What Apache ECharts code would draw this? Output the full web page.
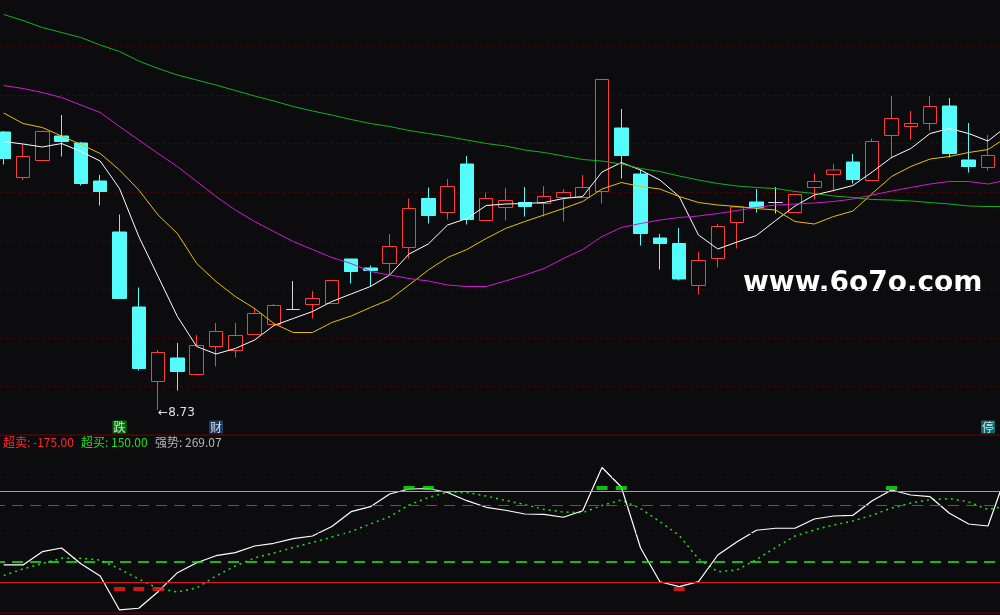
<!DOCTYPE html>
<html>
<head>
<meta charset="utf-8">
<title>K线</title>
<script src="https://cdn.jsdelivr.net/npm/echarts@6/dist/echarts.min.js"></script>
<style>
html, body { margin: 0; padding: 0; background: #0c0c0f; }
#main { width: 1000px; height: 615px; }
</style>
</head>
<body>
<div id="main"></div>
<script>
// 日K数据 (读自截图)
var days = [];
for (var d = 1; d <= 53; d++) { days.push('D' + d); }

var open  = [14.29,13.38,13.72,14.21,14.07,13.31,12.29,10.79,9.30,9.77,9.44,10.00,9.92,10.24,10.44,10.74,10.84,10.86,11.75,11.57,11.66,11.98,12.96,12.68,13.65,12.52,12.78,12.88,12.86,12.98,12.98,13.10,14.37,13.45,12.17,12.06,11.22,11.76,12.48,12.89,12.88,12.68,13.18,13.44,13.69,13.32,14.22,14.40,14.46,14.81,13.73,13.58];
var close = [13.76,13.80,14.30,14.10,13.26,13.10,10.96,9.56,9.88,9.50,10.02,10.30,10.22,10.66,10.82,10.74,10.96,11.32,11.50,11.52,12.00,12.76,12.62,13.20,12.54,12.96,12.92,12.80,13.00,13.08,13.18,15.34,13.82,12.26,12.06,11.35,11.72,12.40,12.79,12.78,12.88,13.04,13.30,13.53,13.34,14.10,14.56,14.46,14.80,13.86,13.60,13.82];
var low   = [13.64,13.33,13.72,13.80,13.22,12.82,10.96,9.52,8.73,9.12,9.42,9.60,9.78,10.24,10.43,10.74,10.56,10.86,11.26,11.20,11.43,11.76,12.46,12.54,12.44,12.52,12.52,12.60,12.60,12.50,12.98,12.86,13.36,12.02,11.54,11.32,11.04,11.58,11.96,12.68,12.66,12.68,12.94,13.10,13.26,13.32,13.76,14.14,14.32,13.78,13.48,13.52];
var high  = [14.31,14.04,14.32,14.63,14.09,13.43,12.64,11.18,9.93,10.07,10.23,10.47,10.47,10.78,10.85,11.31,11.11,11.32,11.75,11.62,12.25,12.96,13.18,13.35,13.81,13.08,13.17,13.19,13.21,13.15,13.43,15.34,14.75,13.53,12.25,12.37,11.89,12.45,12.79,13.15,13.19,13.04,13.46,13.65,13.85,14.16,15.01,14.71,15.01,14.97,14.47,14.23];

var ma5  = [14.10,14.05,13.99,14.06,13.90,13.71,13.16,12.20,11.40,10.60,10.00,9.85,9.96,10.13,10.42,10.56,10.70,10.90,11.05,11.20,11.43,11.85,12.05,12.43,12.56,12.82,12.85,12.86,12.88,12.96,13.00,13.49,13.68,13.53,13.33,13.00,12.23,11.95,12.09,12.22,12.52,12.81,13.03,13.12,13.22,13.49,13.78,13.96,14.26,14.36,14.26,14.11,14.41];
var ma10 = [14.67,14.46,14.38,14.21,14.04,13.86,13.53,13.13,12.63,12.26,11.66,11.30,11.00,10.76,10.46,10.28,10.28,10.48,10.61,10.78,10.94,11.23,11.53,11.78,11.94,12.16,12.36,12.50,12.63,12.76,12.90,13.15,13.28,13.20,13.15,13.00,12.88,12.83,12.80,12.76,12.73,12.50,12.45,12.60,12.71,13.06,13.40,13.60,13.75,13.80,13.88,13.94,14.19];
var ma20 = [15.22,15.16,15.08,14.98,14.83,14.68,14.40,14.13,13.86,13.60,13.30,13.00,12.73,12.50,12.30,12.10,11.94,11.78,11.66,11.50,11.43,11.36,11.31,11.23,11.20,11.20,11.31,11.43,11.56,11.76,11.94,12.20,12.38,12.46,12.53,12.58,12.61,12.66,12.72,12.78,12.83,12.85,12.87,12.90,12.95,13.03,13.11,13.18,13.25,13.30,13.30,13.25,13.33];
var ma60 = [16.64,16.52,16.38,16.28,16.18,16.03,15.90,15.71,15.56,15.43,15.33,15.23,15.12,15.01,14.91,14.80,14.71,14.63,14.54,14.46,14.40,14.32,14.26,14.20,14.13,14.06,14.01,13.93,13.88,13.81,13.74,13.71,13.65,13.56,13.50,13.41,13.33,13.26,13.21,13.18,13.16,13.10,13.06,13.01,12.98,12.94,12.93,12.91,12.88,12.85,12.81,12.80,12.80];

// K线下方的标记
var tagIdx  = [6, 11, 51];
var tagText = ['跌', '财', '停'];

// 副图指标
var strength = [-112.2,-112.2,-64.9,-51.8,-107.6,-151.3,-272.2,-266.2,-207.2,-139.6,-104.1,-79.2,-68.5,-44.7,-35.1,-18.7,-9.1,24.7,77.3,95.1,140.2,158.0,159.8,145.6,116.4,92.9,82.3,69.1,68.0,57.4,80.8,234.4,165.1,-51.8,-172.0,-189.4,-171.6,-76.7,-29.4,11.2,18.3,18.3,51.3,62.0,64.5,116.4,154.4,136.7,130.6,71.6,33.6,26.4,220.0];
var signal   = [-149.6,-126.4,-106.9,-88.4,-88.4,-94.5,-126.4,-162.0,-195.8,-208.2,-194.0,-151.3,-115.8,-87.3,-69.6,-50.0,-32.2,-12.7,6.9,33.6,59.5,101.1,127.8,146.3,145.6,133.1,117.1,102.9,85.1,76.2,73.7,99.3,118.9,88.7,41.7,-7.3,-90.9,-136.1,-130.0,-92.7,-50.0,-9.1,12.2,30.0,44.2,64.5,90.4,108.2,120.0,124.2,111.8,85.1,97.6];
var buyIdx  = [21, 22, 31, 32, 46];
var sellIdx = [6, 7, 8, 35];

var overbought = 150;
var oversold = -175;
var upperLevel = 100;
var lowerLevel = -100;
var gridLevels = [200, 0];
var strengthNow = 269.07;

var bg = '#0c0c0f';
var upColor = '#ff3c3c';
var downColor = '#54fcfc';
var flatColor = '#d8d8d8';
var cjk = '"Noto Sans CJK SC", sans-serif';

var kData = open.map(function (o, i) {
    var v = [o, close[i], low[i], high[i]];
    if (o === close[i]) {
        return { value: v, itemStyle: { color: flatColor, color0: flatColor, borderColor: flatColor, borderColor0: flatColor } };
    }
    return v;
});

var tagColors = ['#008a00', '#1c4a7c', '#0a8080'];
var tagData = tagIdx.map(function (d, i) {
    return { value: [d, 8.39], itemStyle: { color: tagColors[i] }, label: { formatter: tagText[i] } };
});

var myChart = echarts.init(document.getElementById('main'));

var option = {
    backgroundColor: bg,
    animation: false,
    grid: [
        { left: -5.95, width: 1022.9, top: 0, height: 435, outerBoundsMode: 'none' },
        { left: -5.95, width: 1022.9, top: 435, height: 178, outerBoundsMode: 'none',
          show: true, borderColor: '#6e0000', borderWidth: 1, backgroundColor: 'transparent' }
    ],
    xAxis: [
        { type: 'category', gridIndex: 0, data: days, show: false },
        { type: 'category', gridIndex: 1, data: days, show: false }
    ],
    yAxis: [
        { type: 'value', gridIndex: 0, min: 8.23, max: 16.93, show: false },
        { type: 'value', gridIndex: 0, min: 0, max: 8.96, interval: 1,
          axisLine: { show: false }, axisTick: { show: false }, axisLabel: { show: false },
          splitLine: { show: true, showMaxLine: false, lineStyle: { color: '#3e0a0a', type: [3, 3], width: 1 } } },
        { type: 'value', gridIndex: 1, min: -283, max: 350, show: false }
    ],
    graphic: [
        { type: 'text', left: 3, top: 436, style: { text: '超卖: ' + oversold.toFixed(2), fill: '#ff2a2a', font: '12px ' + cjk } },
        { type: 'text', left: 81, top: 436, style: { text: '超买: ' + overbought.toFixed(2), fill: '#1ee01e', font: '12px ' + cjk } },
        { type: 'text', left: 155, top: 436, style: { text: '强势: ' + strengthNow.toFixed(2), fill: '#b8b8b8', font: '12px ' + cjk } },
        { type: 'text', left: 743, top: 270, style: { text: 'www.6o7o.com', fill: '#ffffff', font: 'bold 28px "DejaVu Sans"' } }
    ],
    series: [
        {
            type: 'candlestick',
            xAxisIndex: 0, yAxisIndex: 0,
            data: kData,
            barWidth: 14,
            itemStyle: { color: bg, color0: downColor, borderColor: upColor, borderColor0: downColor, borderWidth: 1 },
            markPoint: {
                symbol: 'circle', symbolSize: 0, silent: true,
                data: [{ type: 'min', valueDim: 'lowest' }],
                label: {
                    show: true, position: 'right', distance: 0, offset: [0, 3],
                    color: '#e0e0e0', fontSize: 12, fontFamily: 'DejaVu Sans',
                    formatter: function (p) { return '←' + Number(p.value).toFixed(2); }
                }
            }
        },
        { name: 'MA5', type: 'line', xAxisIndex: 0, yAxisIndex: 0, data: ma5, symbol: 'none', lineStyle: { color: '#ffffff', width: 1 }, z: 3 },
        { name: 'MA10', type: 'line', xAxisIndex: 0, yAxisIndex: 0, data: ma10, symbol: 'none', lineStyle: { color: '#e8c000', width: 1 }, z: 3 },
        { name: 'MA20', type: 'line', xAxisIndex: 0, yAxisIndex: 0, data: ma20, symbol: 'none', lineStyle: { color: '#d21ad2', width: 1 }, z: 3 },
        { name: 'MA60', type: 'line', xAxisIndex: 0, yAxisIndex: 0, data: ma60, symbol: 'none', lineStyle: { color: '#14b020', width: 1 }, z: 3 },
        {
            type: 'scatter', xAxisIndex: 0, yAxisIndex: 0,
            data: tagData, symbol: 'rect', symbolSize: [14, 13], z: 5,
            label: { show: true, position: 'inside', color: '#ffffff', fontSize: 12, fontFamily: cjk }
        },
        {
            name: '强势', type: 'line', xAxisIndex: 1, yAxisIndex: 2,
            data: strength, symbol: 'none', lineStyle: { color: '#ffffff', width: 1.2 }, z: 4,
            markLine: {
                symbol: 'none', silent: true, label: { show: false },
                data: [
                    { yAxis: gridLevels[0], lineStyle: { color: '#3e0a0a', type: [2, 4], width: 1 } },
                    { yAxis: gridLevels[1], lineStyle: { color: '#3e0a0a', type: [2, 4], width: 1 } },
                    { yAxis: overbought, lineStyle: { color: '#33ee33', type: 'solid', width: 1 } },
                    { yAxis: upperLevel, lineStyle: { color: '#e02020', type: [11, 7], width: 1 } },
                    { yAxis: lowerLevel, lineStyle: { color: '#22ee22', type: [11, 7], width: 1.5 } },
                    { yAxis: oversold, lineStyle: { color: '#dd1a1a', type: 'solid', width: 1 } }
                ]
            }
        },
        {
            name: '信号', type: 'line', xAxisIndex: 1, yAxisIndex: 2,
            data: signal, symbol: 'none', lineStyle: { color: '#1ee01e', type: [2, 4], width: 1.5 }, z: 3
        },
        {
            type: 'scatter', xAxisIndex: 1, yAxisIndex: 2, z: 6,
            data: buyIdx.map(function (i) { return [i, 161.5]; }),
            symbol: 'rect', symbolSize: [11, 4], itemStyle: { color: '#11ee11' }
        },
        {
            type: 'scatter', xAxisIndex: 1, yAxisIndex: 2, z: 6,
            data: sellIdx.map(function (i) { return [i, -197.7]; }),
            symbol: 'rect', symbolSize: [11, 4], itemStyle: { color: '#ff1a1a' }
        }
    ]
};
myChart.setOption(option);
</script>
</body>
</html>
